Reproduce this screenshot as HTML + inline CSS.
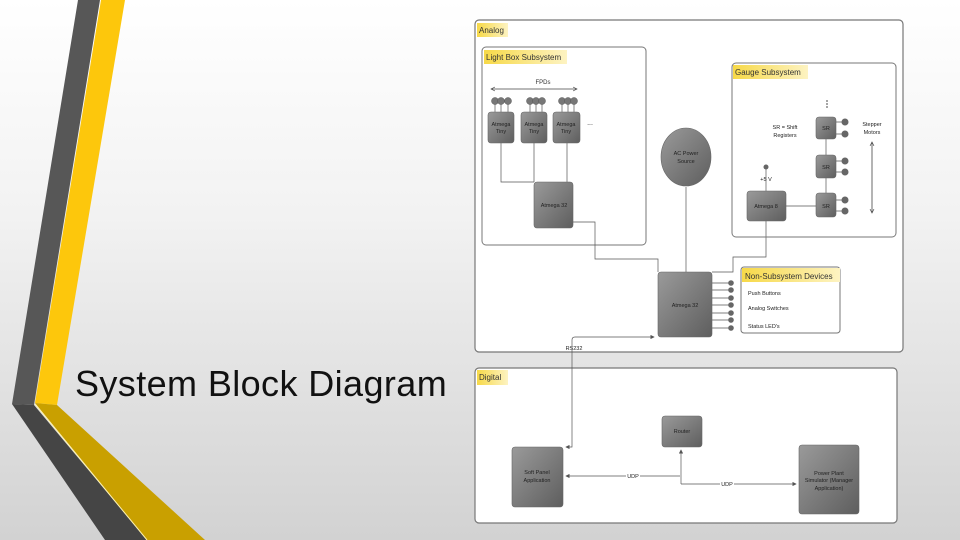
<!DOCTYPE html>
<html><head><meta charset="utf-8"><style>
html,body{margin:0;padding:0;width:960px;height:540px;overflow:hidden}
body{background:linear-gradient(#ffffff 0%,#f2f2f2 40%,#d2d2d2 100%);font-family:"Liberation Sans",sans-serif}
.t{position:absolute;left:75px;top:363px;font-size:36px;color:#111;white-space:nowrap;letter-spacing:0.4px}
svg{position:absolute;left:0;top:0}
</style></head><body>
<svg width="960" height="540" viewBox="0 0 960 540" font-family="Liberation Sans, sans-serif">
<defs>
<linearGradient id="g" x1="0" y1="0" x2="1" y2="1"><stop offset="0" stop-color="#9a9a9a"/><stop offset="1" stop-color="#5e5e5e"/></linearGradient>
<linearGradient id="y" x1="0" y1="0" x2="1" y2="0"><stop offset="0" stop-color="#f7d948"/><stop offset="1" stop-color="#fdf3c2"/></linearGradient>
<marker id="a" markerWidth="6" markerHeight="6" refX="5" refY="3" orient="auto"><path d="M0,0 L6,3 L0,6z" fill="#555"/></marker>
<marker id="a2" markerWidth="6" markerHeight="6" refX="5" refY="3" orient="auto-start-reverse"><path d="M0,0.5 L5,3 L0,5.5" fill="none" stroke="#444" stroke-width="0.8"/></marker>
</defs>
<polygon points="78,0 100,0 34,405 12,404" fill="#575757"/>
<polygon points="101,0 125,0 57,405 35,403" fill="#fdc70c"/>
<polygon points="12,404 34,405 147,540 105,540" fill="#454545"/>
<polygon points="35,403 57,405 205,540 147,540" fill="#c9a000"/>
<line x1="35" y1="404" x2="147" y2="540" stroke="#fff3b0" stroke-width="1"/>
<rect x="475" y="20" width="428" height="332" rx="4" fill="#fff" stroke="#777" stroke-width="1.2"/>
<rect x="477" y="23" width="31" height="14" fill="url(#y)"/><text x="479" y="33" font-size="8" fill="#333">Analog</text>
<rect x="482" y="47" width="164" height="198" rx="4" fill="#fff" stroke="#777"/>
<rect x="484" y="50" width="83" height="14" fill="url(#y)"/><text x="486" y="60" font-size="8" fill="#333">Light Box Subsystem</text>
<text x="543" y="84" font-size="6" text-anchor="middle" fill="#333">FPDs</text>
<line x1="491" y1="89" x2="577" y2="89" stroke="#444" stroke-width="0.8" marker-start="url(#a2)" marker-end="url(#a2)"/>
<g fill="#777" stroke="#555" stroke-width="0.5">
<circle cx="495" cy="101" r="3.5"/><circle cx="501" cy="101" r="3.5"/><circle cx="508" cy="101" r="3.5"/>
<circle cx="530" cy="101" r="3.5"/><circle cx="536" cy="101" r="3.5"/><circle cx="542" cy="101" r="3.5"/>
<circle cx="562" cy="101" r="3.5"/><circle cx="568" cy="101" r="3.5"/><circle cx="574" cy="101" r="3.5"/>
</g>
<g stroke="#555" stroke-width="0.7" fill="none">
<path d="M495,104V112M501,104V112M508,104V112M530,104V112M536,104V112M542,104V112M562,104V112M568,104V112M574,104V112"/>
<path d="M501,143V182H534M534,143V182M567,143V182"/>
<path d="M573,222H595V259H658V272"/>
<path d="M686,187V272"/>
<path d="M766,221V257H733V272H712"/>
<path d="M786,206H816M826,139V155M826,178V193"/>
<path d="M836,122H845M836,134H845M836,161H845M836,172H845M836,200H845M836,211H845"/>
<path d="M766,167V191"/>
<path d="M712,283H731M712,290H731M712,298H731M712,305H731M712,313H731M712,320H731M712,328H731"/>
</g>
<g fill="url(#g)" stroke="#666" stroke-width="0.6">
<rect x="488" y="112" width="26" height="31" rx="3"/><rect x="521" y="112" width="26" height="31" rx="3"/><rect x="553" y="112" width="27" height="31" rx="3"/>
<rect x="534" y="182" width="39" height="46" rx="3"/>
<ellipse cx="686" cy="157" rx="25" ry="29"/>
<rect x="816" y="117" width="20" height="22" rx="3"/><rect x="816" y="155" width="20" height="23" rx="3"/><rect x="816" y="193" width="20" height="24" rx="3"/>
<rect x="747" y="191" width="39" height="30" rx="3"/>
<rect x="658" y="272" width="54" height="65" rx="3"/>
</g>
<g font-size="5.5" fill="#222" text-anchor="middle">
<text x="501" y="126">Atmega</text><text x="501" y="133">Tiny</text>
<text x="534" y="126">Atmega</text><text x="534" y="133">Tiny</text>
<text x="566" y="126">Atmega</text><text x="566" y="133">Tiny</text>
<text x="590" y="125" font-size="7">...</text>
<text x="554" y="207">Atmega 32</text>
<text x="686" y="155">AC Power</text><text x="686" y="163">Source</text>
<text x="826" y="130">SR</text><text x="826" y="169">SR</text><text x="826" y="208">SR</text>
<text x="785" y="129">SR = Shift</text><text x="785" y="137">Registers</text>
<text x="872" y="126">Stepper</text><text x="872" y="134">Motors</text>
<text x="766" y="181">+5 V</text>
<text x="766" y="208">Atmega 8</text>
<text x="685" y="307">Atmega 32</text>
<text x="574" y="350">RS232</text>
</g>
<g fill="#666"><circle cx="845" cy="122" r="3.5"/><circle cx="845" cy="134" r="3.5"/><circle cx="845" cy="161" r="3.5"/><circle cx="845" cy="172" r="3.5"/><circle cx="845" cy="200" r="3.5"/><circle cx="845" cy="211" r="3.5"/><circle cx="766" cy="167" r="2.5"/>
<circle cx="731" cy="283" r="2.8"/><circle cx="731" cy="290" r="2.8"/><circle cx="731" cy="298" r="2.8"/><circle cx="731" cy="305" r="2.8"/><circle cx="731" cy="313" r="2.8"/><circle cx="731" cy="320" r="2.8"/><circle cx="731" cy="328" r="2.8"/>
<circle cx="827" cy="101" r="0.9"/><circle cx="827" cy="104" r="0.9"/><circle cx="827" cy="107" r="0.9"/></g>
<line x1="872" y1="142" x2="872" y2="213" stroke="#444" stroke-width="0.8" marker-start="url(#a2)" marker-end="url(#a2)"/>
<rect x="732" y="63" width="164" height="174" rx="4" fill="none" stroke="#777"/>
<rect x="733" y="65" width="75" height="14" fill="url(#y)"/><text x="735" y="75" font-size="8" fill="#333">Gauge Subsystem</text>
<rect x="741" y="267" width="99" height="66" rx="3" fill="#fff" stroke="#777"/>
<rect x="742" y="268" width="98" height="14" fill="url(#y)"/><text x="745" y="279" font-size="8" fill="#333">Non-Subsystem Devices</text>
<g font-size="5.5" fill="#222"><text x="748" y="295">Push Buttons</text><text x="748" y="310">Analog Switches</text><text x="748" y="328">Status LED's</text></g>
<path d="M572,352V340Q572,337 575,337H654" fill="none" stroke="#555" stroke-width="0.7" marker-end="url(#a)"/>
<rect x="475" y="368" width="422" height="155" rx="4" fill="#fff" stroke="#777" stroke-width="1.2"/>
<rect x="477" y="370" width="31" height="15" fill="url(#y)"/><text x="479" y="380" font-size="8" fill="#333">Digital</text>
<path d="M572,352V447H566" fill="none" stroke="#555" stroke-width="0.7" marker-end="url(#a)"/>
<g stroke="#555" stroke-width="0.7" fill="none">
<path d="M680,476H566" marker-end="url(#a)"/>
<path d="M681,484V450" marker-end="url(#a)"/>
<path d="M681,484H796" marker-end="url(#a)"/>
</g>
<g fill="url(#g)" stroke="#666" stroke-width="0.6">
<rect x="662" y="416" width="40" height="31" rx="3"/>
<rect x="512" y="447" width="51" height="60" rx="3"/>
<rect x="799" y="445" width="60" height="69" rx="3"/>
</g>
<g font-size="5.5" fill="#222" text-anchor="middle">
<text x="682" y="433">Router</text>
<text x="537" y="474">Soft Panel</text><text x="537" y="482">Application</text>
<text x="829" y="475">Power Plant</text><text x="829" y="482">Simulator (Manager</text><text x="829" y="490">Application)</text>
<rect x="626" y="472" width="14" height="7" fill="#fff"/><text x="633" y="478">UDP</text>
<rect x="720" y="480" width="14" height="7" fill="#fff"/><text x="727" y="486">UDP</text>
</g>
</svg>
<div class="t">System Block Diagram</div>
</body></html>
